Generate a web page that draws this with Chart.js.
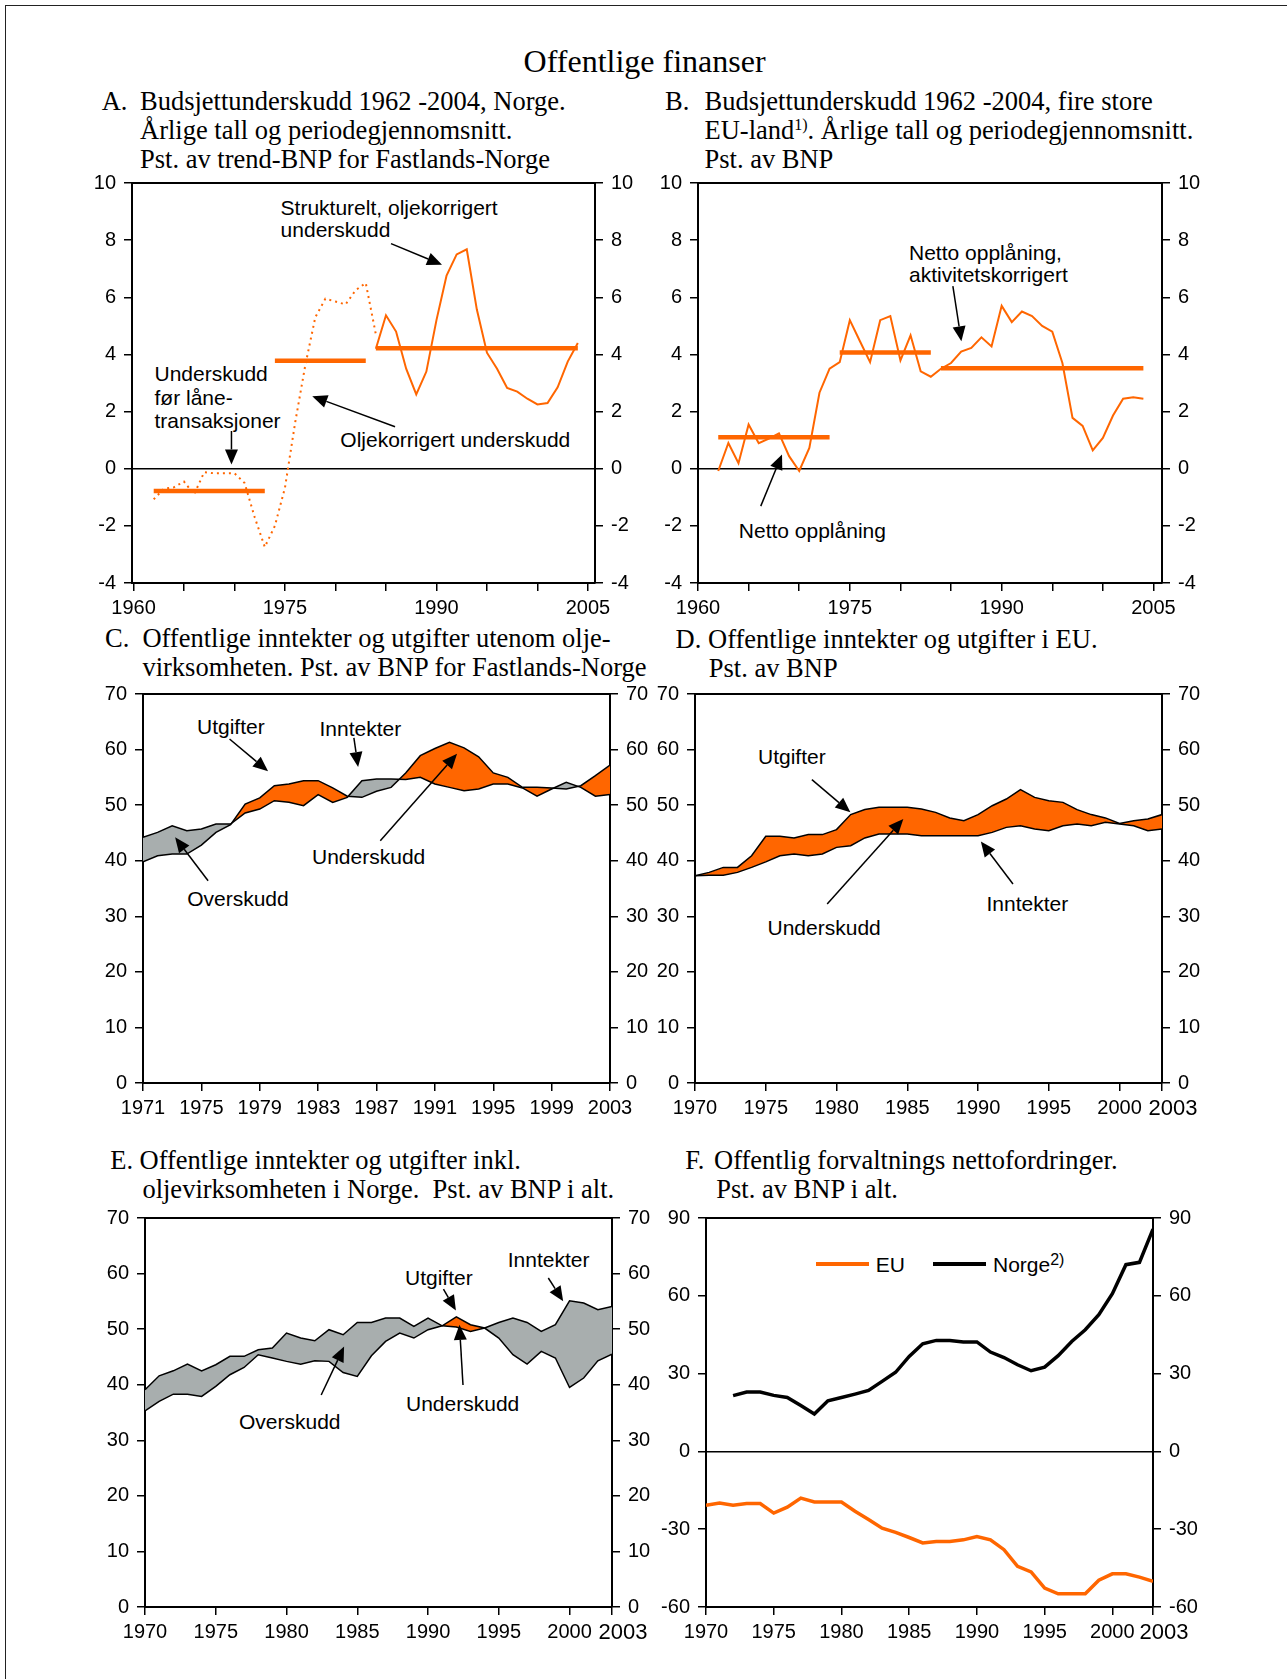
<!DOCTYPE html>
<html>
<head>
<meta charset="utf-8">
<script src="https://cdn.jsdelivr.net/npm/chart.js@4.4.0/dist/chart.umd.min.js"></script>
<style>
  body { margin: 0; background: #fff; width: 1287px; height: 1679px; position: relative; overflow: hidden;
         font-family: "Liberation Sans", Arial, sans-serif; }
  .frame { position: absolute; left: 5px; top: 5px; width: 1400px; height: 1800px;
           border-left: 1.5px solid #222; border-top: 1.5px solid #222; }
  .t { position: absolute; font-family: "Liberation Serif", "Times New Roman", serif; font-size: 26.5px;
       white-space: nowrap; line-height: 1; transform: translateY(-50%); color: #000; }
  .t sup { font-size: 16px; vertical-align: 9px; line-height: 0; }
  .a { position: absolute; font-size: 21px; white-space: nowrap; line-height: 1; transform: translateY(-50%); color: #000; }
  .a sup { font-size: 16px; vertical-align: 7px; line-height: 0; }
  .key { position: absolute; height: 4px; width: 53px; }
  canvas { position: absolute; }
</style>
</head>
<body>
<div class="frame"></div>
<div class="t" style="left:644.6px; top:61px; font-size:32px; transform:translate(-50%,-50%);">Offentlige finanser</div>
<div id="labels"></div>

<canvas id="chartA"></canvas>
<canvas id="chartB"></canvas>
<canvas id="chartC"></canvas>
<canvas id="chartD"></canvas>
<canvas id="chartE"></canvas>
<canvas id="chartF"></canvas>

<script>
const ORANGE = '#ff6600';
const GREY = '#a8aeae';

// A. Budsjettunderskudd, Norge
const yearsA1 = [1962, 1963, 1964, 1965, 1966, 1967, 1968, 1969, 1970, 1971, 1972, 1973,
                 1974, 1975, 1976, 1977, 1978, 1979, 1980, 1981, 1982, 1983, 1984];
const underskuddForLaan = [-1.07, -0.7, -0.65, -0.45, -0.9, -0.12, -0.16, -0.16, -0.16, -0.5, -1.7, -2.74,
                           -2.0, -0.66, 1.6, 3.6, 5.3, 5.95, 5.85, 5.75, 6.25, 6.5, 4.7];
const yearsA2 = [1984, 1985, 1986, 1987, 1988, 1989, 1990, 1991, 1992, 1993, 1994,
                 1995, 1996, 1997, 1998, 1999, 2000, 2001, 2002, 2003, 2004];
const strukturelt = [4.2, 5.37, 4.8, 3.5, 2.6, 3.4, 5.2, 6.76, 7.5, 7.68, 5.57,
                     4.06, 3.5, 2.83, 2.7, 2.45, 2.25, 2.3, 2.85, 3.75, 4.4];
const periodStartA = [1962, 1974, 1984];
const periodEndA = [1973, 1983, 2004];
const periodMeanA = [-0.78, 3.78, 4.22];

// B. Budsjettunderskudd, fire store EU-land
const yearsB = [1962, 1963, 1964, 1965, 1966, 1967, 1968, 1969, 1970, 1971, 1972, 1973, 1974, 1975,
                1976, 1977, 1978, 1979, 1980, 1981, 1982, 1983, 1984, 1985, 1986, 1987, 1988, 1989,
                1990, 1991, 1992, 1993, 1994, 1995, 1996, 1997, 1998, 1999, 2000, 2001, 2002, 2003, 2004];
const nettoOpplaning = [-0.08, 0.9, 0.19, 1.55, 0.89, 1.05, 1.24, 0.44, -0.08, 0.73, 2.66, 3.5, 3.73, 5.2,
                        4.46, 3.73, 5.2, 5.34, 3.79, 4.67, 3.41, 3.22, 3.5, 3.7, 4.1, 4.23, 4.6, 4.28,
                        5.7, 5.13, 5.5, 5.34, 5.0, 4.8, 3.7, 1.78, 1.5, 0.64, 1.08, 1.86, 2.45, 2.5, 2.45];
const periodStartB = [1962, 1974, 1984];
const periodEndB = [1973, 1983, 2004];
const periodMeanB = [1.1, 4.07, 3.52];

// C. Norge utenom olje
const yearsC = [1971, 1972, 1973, 1974, 1975, 1976, 1977, 1978, 1979, 1980, 1981, 1982, 1983, 1984, 1985, 1986, 1987,
                1988, 1989, 1990, 1991, 1992, 1993, 1994, 1995, 1996, 1997, 1998, 1999, 2000, 2001, 2002, 2003];
const utgifterC = [39.8, 40.9, 41.2, 41.2, 42.8, 45.1, 46.5, 50.2, 51.3, 53.5, 53.8, 54.4, 54.4, 53.1, 51.6, 51.4, 52.5,
                   53.2, 55.8, 58.9, 60.2, 61.3, 60.3, 58.7, 55.8, 55.0, 53.2, 53.2, 53.1, 52.9, 53.5, 55.3, 57.2];
const inntekterC = [44.2, 45.1, 46.3, 45.4, 45.7, 46.6, 46.6, 48.6, 49.3, 50.8, 50.5, 49.9, 51.9, 50.5, 51.4, 54.4, 54.7,
                    54.7, 54.6, 55.0, 53.8, 53.2, 52.6, 52.9, 53.8, 53.8, 53.1, 51.6, 52.9, 54.1, 53.2, 51.6, 51.9];

// D, E, F share the years 1970-2003
const yearsDEF = [1970, 1971, 1972, 1973, 1974, 1975, 1976, 1977, 1978, 1979, 1980, 1981, 1982, 1983, 1984, 1985, 1986,
                  1987, 1988, 1989, 1990, 1991, 1992, 1993, 1994, 1995, 1996, 1997, 1998, 1999, 2000, 2001, 2002, 2003];
const utgifterD = [37.3, 37.9, 38.8, 38.8, 40.9, 44.4, 44.4, 44.1, 44.7, 44.7, 45.6, 48.3, 49.2, 49.6, 49.6, 49.6, 49.3,
                   48.7, 47.7, 47.2, 48.3, 49.9, 51.1, 52.8, 51.4, 50.8, 50.5, 49.2, 48.3, 47.7, 46.7, 47.2, 47.5, 48.3];
const inntekterD = [37.3, 37.4, 37.4, 37.9, 38.8, 39.8, 40.9, 41.2, 40.9, 41.2, 42.4, 42.7, 44.1, 44.8, 44.8, 44.8, 44.5,
                    44.5, 44.5, 44.5, 44.5, 45.1, 46.0, 46.3, 45.7, 45.4, 46.3, 46.6, 46.3, 46.9, 46.6, 46.3, 45.4, 45.7];
const utgifterE = [35.3, 37.0, 38.3, 38.3, 37.9, 39.7, 41.8, 43.1, 45.4, 44.8, 44.2, 43.7, 44.3, 44.2, 42.2, 41.5, 45.2,
                   47.8, 49.3, 48.4, 49.9, 50.6, 52.2, 50.8, 50.2, 48.4, 45.4, 43.7, 46.0, 44.8, 39.5, 41.2, 44.3, 45.5];
const inntekterE = [39.1, 41.6, 42.5, 43.7, 42.5, 43.6, 45.1, 45.1, 46.3, 46.6, 49.3, 48.4, 47.9, 49.9, 49.0, 51.2, 51.2,
                    52.0, 52.0, 50.5, 52.0, 50.6, 50.4, 49.6, 50.2, 51.2, 52.0, 51.2, 49.6, 50.8, 55.1, 54.7, 53.5, 54.1];
const euF = [-20.8, -19.9, -20.8, -20.1, -20.1, -23.8, -21.5, -18.0, -19.5, -19.5, -19.5, -23.1, -26.3, -29.6, -31.2, -33.2, -35.3,
             -34.7, -34.7, -34.1, -32.8, -34.1, -37.9, -44.3, -46.5, -52.7, -54.9, -54.9, -54.9, -49.7, -47.2, -47.2, -48.5, -50.1];
const norgeF = [null, null, 21.5, 22.9, 22.9, 21.6, 20.8, 17.7, 14.4, 19.5, 20.8, 22.1, 23.5, 27.0, 30.5, 36.6, 41.5,
                42.8, 42.8, 42.2, 42.2, 38.3, 36.2, 33.4, 31.1, 32.5, 36.9, 42.4, 46.9, 52.7, 60.8, 72.0, 72.9, 85.7];

// tick labels
const ticksAB = [1960, 1965, 1970, 1975, 1980, 1985, 1990, 1995, 2000, 2005];
const labelsAB = [1960, 1975, 1990, 2005];
const ticksC = [1971, 1975, 1979, 1983, 1987, 1991, 1995, 1999, 2003];
const ticksDEF = [1970, 1975, 1980, 1985, 1990, 1995, 2000, 2003];

const SIDE = 60, TOP = 24, BOTTOM = 45;
const FONT = '"Liberation Sans", Arial, sans-serif';

function pts(xs, ys) {
  return xs.map((x, i) => ({ x: x, y: ys[i] }));
}

function periods(starts, ends, means) {
  const out = [];
  starts.forEach((s, i) => {
    out.push({ x: s, y: means[i] }, { x: ends[i], y: means[i] }, { x: ends[i], y: null });
  });
  return out;
}

function line(data, color, width, extra) {
  return Object.assign({ data: data, borderColor: color, borderWidth: width, pointRadius: 0,
                         tension: 0, fill: false, spanGaps: false }, extra || {});
}

function place(id, rect) {
  const c = document.getElementById(id);
  const w = rect[2] - rect[0] + 2 * SIDE, h = rect[3] - rect[1] + TOP + BOTTOM;
  c.width = w; c.height = h;
  c.style.left = (rect[0] - SIDE) + 'px';
  c.style.top = (rect[1] - TOP) + 'px';
  c.style.width = w + 'px'; c.style.height = h + 'px';
  return c;
}

function xAxis(min, max, tickVals, labelVals, bigLast) {
  return {
    type: 'linear', min: min, max: max,
    afterBuildTicks: s => { s.ticks = tickVals.map(v => ({ value: v })); },
    afterFit: s => { s.height = BOTTOM; },
    ticks: {
      autoSkip: false, maxRotation: 0, color: '#000', padding: 5,
      font: ctx => ({ family: FONT, size: (bigLast && ctx.tick && ctx.tick.value === 2003) ? 22 : 20 }),
      // the closing 2003 label sits a little right of its tick, as in the original
      callback: v => !labelVals.includes(v) ? '' : (bigLast && v === 2003 ? '\u2002\u20022003' : String(v))
    },
    border: { display: true, color: '#000', width: 2 },
    grid: { drawOnChartArea: false, color: '#000', tickColor: '#000', tickLength: 8, lineWidth: 1.5 }
  };
}

function yAxes(min, max, step, zeroLine) {
  const make = pos => ({
    type: 'linear', position: pos, min: min, max: max,
    afterFit: s => { s.width = SIDE; },
    ticks: { stepSize: step, color: '#000', padding: 8, font: { family: FONT, size: 20 } },
    border: { display: true, color: '#000', width: 2 },
    grid: { drawOnChartArea: false, color: '#000', tickColor: '#000', tickLength: 8, lineWidth: 1.5 }
  });
  const y = make('left');
  if (zeroLine) {
    y.grid.drawOnChartArea = true;
    y.grid.color = ctx => (ctx.tick && ctx.tick.value === 0) ? '#000' : 'rgba(0,0,0,0)';
  }
  return { y: y, y2: make('right') };
}

// top edge of the plot box and the annotation arrows
const decor = {
  id: 'decor',
  afterDatasetsDraw(chart, args, opts) {
    const ctx = chart.ctx, a = chart.chartArea, sx = chart.scales.x, sy = chart.scales.y;
    ctx.save();
    ctx.strokeStyle = '#000';
    ctx.fillStyle = '#000';
    ctx.lineWidth = 2;
    ctx.beginPath(); ctx.moveTo(a.left, a.top); ctx.lineTo(a.right, a.top); ctx.stroke();
    (opts.arrows || []).forEach(arr => {
      const x1 = sx.getPixelForValue(arr[0][0]), y1 = sy.getPixelForValue(arr[0][1]);
      const x2 = sx.getPixelForValue(arr[1][0]), y2 = sy.getPixelForValue(arr[1][1]);
      const ang = Math.atan2(y2 - y1, x2 - x1);
      const L = 15, W = 6.5;
      const bx = x2 - L * Math.cos(ang), by = y2 - L * Math.sin(ang);
      ctx.lineWidth = 1.5;
      ctx.beginPath(); ctx.moveTo(x1, y1); ctx.lineTo(bx, by); ctx.stroke();
      ctx.beginPath();
      ctx.moveTo(x2, y2);
      ctx.lineTo(bx + W * Math.sin(ang), by - W * Math.cos(ang));
      ctx.lineTo(bx - W * Math.sin(ang), by + W * Math.cos(ang));
      ctx.closePath(); ctx.fill();
    });
    ctx.restore();
  }
};

function makeChart(id, rect, datasets, scales, arrows) {
  return new Chart(place(id, rect), {
    type: 'line',
    data: { datasets: datasets },
    plugins: [decor],
    options: {
      responsive: false, animation: false, events: [],
      layout: { padding: { top: TOP, left: 0, right: 0, bottom: 0 } },
      scales: scales,
      plugins: { legend: { display: false }, tooltip: { enabled: false }, decor: { arrows: arrows } }
    }
  });
}

document.addEventListener('DOMContentLoaded', () => {
  makeChart('chartA', [132, 183, 595, 583], [
    line(pts(yearsA1, underskuddForLaan), ORANGE, 2, { borderDash: [2, 4] }),
    line(pts(yearsA2, strukturelt), ORANGE, 2),
    line(periods(periodStartA, periodEndA, periodMeanA), ORANGE, 4.5)
  ], Object.assign({ x: xAxis(1959.85, 2005.7, ticksAB, labelsAB, false) }, yAxes(-4, 10, 2, true)), [
    [[1985.5, 7.88], [1990.55, 7.14]],
    [[1969.7, 1.32], [1969.7, 0.15]],
    [[1985.9, 1.47], [1977.7, 2.54]]
  ]);

  makeChart('chartB', [698, 183, 1162, 583], [
    line(pts(yearsB, nettoOpplaning), ORANGE, 2),
    line(periods(periodStartB, periodEndB, periodMeanB), ORANGE, 4.5)
  ], Object.assign({ x: xAxis(1960, 2005.84, ticksAB, labelsAB, false) }, yAxes(-4, 10, 2, true)), [
    [[1985.18, 6.39], [1986.02, 4.46]],
    [[1966.2, -1.31], [1968.3, 0.5]]
  ]);

  const fillTo = { target: 0, above: GREY, below: ORANGE };

  makeChart('chartC', [143, 694, 610, 1083], [
    line(pts(yearsC, utgifterC), '#000', 1.5),
    line(pts(yearsC, inntekterC), '#000', 1.5, { fill: fillTo })
  ], Object.assign({ x: xAxis(1971, 2003, ticksC, ticksC, false) }, yAxes(0, 70, 10, false)), [
    [[1976.93, 61.9], [1979.57, 56.1]],
    [[1985.45, 62.1], [1985.74, 56.85]],
    [[1987.26, 43.6], [1992.52, 59.25]],
    [[1975.46, 36.4], [1973.2, 44.2]]
  ]);

  makeChart('chartD', [695, 694, 1162, 1083], [
    line(pts(yearsDEF, utgifterD), '#000', 1.5),
    line(pts(yearsDEF, inntekterD), '#000', 1.5, { fill: fillTo })
  ], Object.assign({ x: xAxis(1970, 2003, ticksDEF, ticksDEF, true) }, yAxes(0, 70, 10, false)), [
    [[1978.26, 54.6], [1980.98, 48.7]],
    [[1979.34, 32.2], [1984.72, 47.5]],
    [[1992.47, 35.8], [1990.2, 43.45]]
  ]);

  makeChart('chartE', [145, 1218, 612, 1607], [
    line(pts(yearsDEF, utgifterE), '#000', 1.5),
    line(pts(yearsDEF, inntekterE), '#000', 1.5, { fill: fillTo })
  ], Object.assign({ x: xAxis(1970, 2003, ticksDEF, ticksDEF, true) }, yAxes(0, 70, 10, false)), [
    [[1982.45, 38.15], [1984.07, 46.87]],
    [[1991.09, 57.2], [1991.97, 53.35]],
    [[1992.47, 39.96], [1992.22, 50.77]],
    [[1998.5, 59.2], [1999.55, 55.0]]
  ]);

  makeChart('chartF', [706, 1218, 1153, 1607], [
    line(pts(yearsDEF, euF), ORANGE, 3.5),
    line(pts(yearsDEF, norgeF), '#000', 3.5)
  ], Object.assign({ x: xAxis(1970, 2003, ticksDEF, ticksDEF, true) }, yAxes(-60, 90, 30, true)), []);

  // titles and notes, as [class, html, left, centre y]
  const labels = [
    ['t', 'A.', 101.7, 100.6], ['t', 'Budsjettunderskudd 1962 -2004, Norge.', 140, 100.6],
    ['t', 'Årlige tall og periodegjennomsnitt.', 140, 129.6], ['t', 'Pst. av trend-BNP for Fastlands-Norge', 140, 158.5],
    ['t', 'B.', 665, 100.6], ['t', 'Budsjettunderskudd 1962 -2004, fire store', 704.5, 100.6],
    ['t', 'EU-land<sup>1)</sup>. Årlige tall og periodegjennomsnitt.', 704.5, 129.6], ['t', 'Pst. av BNP', 704.5, 158.5],
    ['t', 'C.', 105, 638], ['t', 'Offentlige inntekter og utgifter utenom olje-', 142.4, 638],
    ['t', 'virksomheten. Pst. av BNP for Fastlands-Norge', 142.4, 667],
    ['t', 'D.', 675.6, 639], ['t', 'Offentlige inntekter og utgifter i EU.', 708, 639], ['t', 'Pst. av BNP', 708.8, 668],
    ['t', 'E.', 110.3, 1159.6], ['t', 'Offentlige inntekter og utgifter inkl.', 139.5, 1159.6],
    ['t', 'oljevirksomheten i Norge.&nbsp; Pst. av BNP i alt.', 142.4, 1188.5],
    ['t', 'F.', 685.2, 1159.6], ['t', 'Offentlig forvaltnings nettofordringer.', 714, 1159.6],
    ['t', 'Pst. av BNP i alt.', 716.3, 1188.5],

    ['a', 'Strukturelt, oljekorrigert', 280.6, 206.5], ['a', 'underskudd', 280.6, 229.3],
    ['a', 'Underskudd', 154.5, 373], ['a', 'før låne-', 154.5, 396.7], ['a', 'transaksjoner', 154.5, 420],
    ['a', 'Oljekorrigert underskudd', 340.3, 439.2],
    ['a', 'Netto opplåning,', 909, 251.6], ['a', 'aktivitetskorrigert', 909, 274.3], ['a', 'Netto opplåning', 738.8, 529.5],
    ['a', 'Utgifter', 197, 725.5], ['a', 'Inntekter', 319.5, 727.5], ['a', 'Underskudd', 312, 856], ['a', 'Overskudd', 187.2, 898.3],
    ['a', 'Utgifter', 758, 755.5], ['a', 'Underskudd', 767.5, 926.5], ['a', 'Inntekter', 986.5, 902.7],
    ['a', 'Utgifter', 405, 1276.5], ['a', 'Inntekter', 507.7, 1258.5], ['a', 'Underskudd', 406, 1403], ['a', 'Overskudd', 239, 1421.3],
    ['a', 'EU', 875.7, 1263.5], ['a', 'Norge<sup>2)</sup>', 993, 1263.5]
  ];
  const box = document.getElementById('labels');
  labels.forEach(l => {
    const d = document.createElement('div');
    d.className = l[0];
    d.innerHTML = l[1];
    d.style.left = l[2] + 'px';
    d.style.top = l[3] + 'px';
    box.appendChild(d);
  });

  // legend keys for panel F
  [[816, ORANGE], [933, '#000']].forEach(k => {
    const d = document.createElement('div');
    d.className = 'key';
    d.style.left = k[0] + 'px';
    d.style.top = '1261.5px';
    d.style.background = k[1];
    box.appendChild(d);
  });
});
</script>
</body>
</html>
